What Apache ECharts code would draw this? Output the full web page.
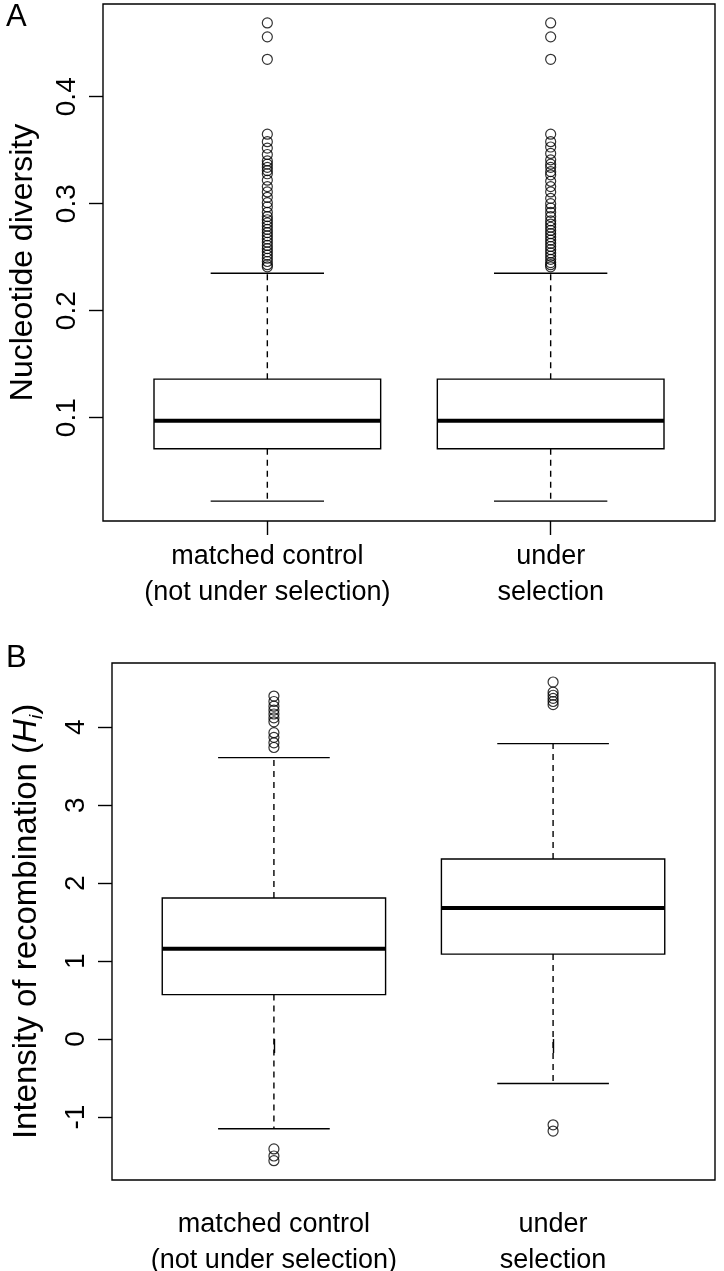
<!DOCTYPE html>
<html>
<head>
<meta charset="utf-8">
<script src="https://cdn.jsdelivr.net/npm/echarts@6/dist/echarts.min.js"></script>
<style>
html,body{margin:0;padding:0;background:#fff;}
#c{width:724px;height:1271px;}
</style>
</head>
<body>
<div id="c"></div>
<script>
// ---------- data ----------
const categories = ['matched control\n(not under selection)', 'under\nselection'];
const catPos = [1, 2];

// Panel A: nucleotide diversity  [lowWhisker, Q1, median, Q3, highWhisker]
const divCtrlStats = [0.022, 0.071, 0.097, 0.136, 0.235];
const divSelStats  = [0.022, 0.071, 0.097, 0.136, 0.235];
const divCtrlOutliers = [0.469, 0.456, 0.435, 0.365, 0.358, 0.352, 0.346, 0.340, 0.337, 0.334, 0.331, 0.328,
  0.322, 0.316, 0.311, 0.306, 0.301, 0.297, 0.292, 0.288, 0.285, 0.282, 0.279, 0.276, 0.273, 0.270,
  0.267, 0.264, 0.261, 0.258, 0.255, 0.252, 0.249, 0.246, 0.243, 0.241];
const divSelOutliers = [0.469, 0.456, 0.435, 0.365, 0.358, 0.353, 0.347, 0.341, 0.337, 0.334, 0.330, 0.327,
  0.321, 0.316, 0.311, 0.305, 0.300, 0.296, 0.292, 0.288, 0.284, 0.281, 0.278, 0.275, 0.272, 0.269,
  0.266, 0.263, 0.260, 0.257, 0.254, 0.251, 0.248, 0.245, 0.243, 0.241];
const divTicks = [0.1, 0.2, 0.3, 0.4];

// Panel B: intensity of recombination
const recCtrlStats = [-1.15, 0.57, 1.16, 1.81, 3.61];
const recSelStats  = [-0.57, 1.09, 1.68, 2.31, 3.79];
const recCtrlOutliers = [4.40, 4.33, 4.27, 4.22, 4.17, 4.12, 4.07, 3.93, 3.87, 3.80, 3.74, -1.41, -1.50, -1.56];
const recSelOutliers = [4.58, 4.45, 4.41, 4.37, 4.33, 4.29, -1.10, -1.18];
const recTicks = [-1, 0, 1, 2, 3, 4];

// ---------- chart ----------
const FONT = '"Liberation Sans", Arial, Helvetica, sans-serif';
const chart = echarts.init(document.getElementById('c'), null, {renderer: 'canvas'});

function renderBox(params, api) {
  const x = api.value(0);
  const lo = api.value(1), q1 = api.value(2), med = api.value(3), q3 = api.value(4), hi = api.value(5);
  const hw = 0.4, cw = 0.2;
  const tl = api.coord([x - hw, q3]);
  const br = api.coord([x + hw, q1]);
  const c = api.coord([x, med]);
  const yLo = api.coord([x, lo])[1], yHi = api.coord([x, hi])[1];
  const capL = api.coord([x - cw, lo])[0], capR = api.coord([x + cw, lo])[0];
  const ls = {stroke: '#000', lineWidth: 1.4};
  return {
    type: 'group',
    children: [
      {type: 'line', shape: {x1: c[0], y1: tl[1], x2: c[0], y2: yHi}, style: {stroke: '#000', lineWidth: 1.4, lineDash: [6, 5]}},
      {type: 'line', shape: {x1: c[0], y1: br[1], x2: c[0], y2: yLo}, style: {stroke: '#000', lineWidth: 1.4, lineDash: [6, 5]}},
      {type: 'line', shape: {x1: capL, y1: yHi, x2: capR, y2: yHi}, style: ls},
      {type: 'line', shape: {x1: capL, y1: yLo, x2: capR, y2: yLo}, style: ls},
      {type: 'rect', shape: {x: tl[0], y: tl[1], width: br[0] - tl[0], height: br[1] - tl[1]}, style: {fill: '#fff', stroke: '#000', lineWidth: 1.4}},
      {type: 'line', shape: {x1: tl[0], y1: c[1], x2: br[0], y2: c[1]}, style: {stroke: '#000', lineWidth: 4}}
    ]
  };
}

function boxData(statsList) {
  return statsList.map((s, i) => [catPos[i]].concat(s));
}
function outData(pos, arr) {
  return arr.map(v => [pos, v]);
}

const tickLabelStyle = {color: '#000', fontSize: 28, fontFamily: FONT};
const outlierStyle = {color: 'rgba(0,0,0,0)', borderColor: '#000', borderWidth: 1.2};

function xAxisFor(gridIndex, min, max, margin) {
  return {
    type: 'value', gridIndex, min, max,
    axisLine: {show: false},
    splitLine: {show: false},
    axisTick: {show: true, customValues: catPos, length: 14, inside: false, lineStyle: {color: '#000', width: 1.4}},
    axisLabel: {
      show: true, customValues: catPos, margin,
      formatter: v => categories[Math.round(v) - 1],
      color: '#000', fontSize: 27, lineHeight: 36, fontFamily: FONT
    }
  };
}

const option = {
  animation: false,
  backgroundColor: '#fff',
  graphic: [
    {type: 'text', left: 6, top: 2, style: {text: 'A', fontSize: 31, fontFamily: FONT, fill: '#000'}},
    {type: 'text', left: 6, top: 643, style: {text: 'B', fontSize: 31, fontFamily: FONT, fill: '#000'}}
  ],
  grid: [
    {left: 103, top: 4, width: 612, height: 517, show: true, borderColor: '#000', borderWidth: 1.4, backgroundColor: 'transparent', containLabel: false, outerBoundsMode: 'none'},
    {left: 112, top: 663, width: 603, height: 517, show: true, borderColor: '#000', borderWidth: 1.4, backgroundColor: 'transparent', containLabel: false, outerBoundsMode: 'none'}
  ],
  xAxis: [
    xAxisFor(0, 0.42, 2.58, 18),
    xAxisFor(1, 0.42, 2.58, 27)
  ],
  yAxis: [
    {
      type: 'value', gridIndex: 0, min: 0.0034, max: 0.4867,
      axisLine: {show: false}, splitLine: {show: false},
      axisTick: {show: true, customValues: divTicks, length: 14, lineStyle: {color: '#000', width: 1.4}},
      axisLabel: Object.assign({customValues: divTicks, rotate: 90, margin: 22, formatter: v => v.toFixed(1)}, tickLabelStyle),
      name: 'Nucleotide diversity', nameLocation: 'middle', nameRotate: 90, nameGap: 64,
      nameTextStyle: {color: '#000', fontSize: 32, fontFamily: FONT}
    },
    {
      type: 'value', gridIndex: 1, min: -1.808, max: 4.824,
      axisLine: {show: false}, splitLine: {show: false},
      axisTick: {show: true, customValues: recTicks, length: 14, lineStyle: {color: '#000', width: 1.4}},
      axisLabel: Object.assign({customValues: recTicks, rotate: 90, margin: 22, formatter: v => String(v)}, tickLabelStyle),
      name: 'Intensity of recombination ({i|H}{s|i})', nameLocation: 'middle', nameRotate: 90, nameGap: 66,
      nameTextStyle: {
        color: '#000', fontSize: 33, fontFamily: FONT, lineHeight: 38,
        rich: {
          i: {fontStyle: 'italic', fontSize: 33, fontFamily: FONT, color: '#000', lineHeight: 38},
          s: {fontStyle: 'italic', fontSize: 19, fontFamily: FONT, color: '#000', verticalAlign: 'bottom', lineHeight: 20}
        }
      }
    }
  ],
  series: [
    {type: 'custom', xAxisIndex: 0, yAxisIndex: 0, renderItem: renderBox, data: boxData([divCtrlStats, divSelStats]), z: 2},
    {type: 'scatter', xAxisIndex: 0, yAxisIndex: 0, symbol: 'circle', symbolSize: 10, itemStyle: outlierStyle, data: outData(catPos[0], divCtrlOutliers), z: 3},
    {type: 'scatter', xAxisIndex: 0, yAxisIndex: 0, symbol: 'circle', symbolSize: 10, itemStyle: outlierStyle, data: outData(catPos[1], divSelOutliers), z: 3},
    {type: 'custom', xAxisIndex: 1, yAxisIndex: 1, renderItem: renderBox, data: boxData([recCtrlStats, recSelStats]), z: 2},
    {type: 'scatter', xAxisIndex: 1, yAxisIndex: 1, symbol: 'circle', symbolSize: 10, itemStyle: outlierStyle, data: outData(catPos[0], recCtrlOutliers), z: 3},
    {type: 'scatter', xAxisIndex: 1, yAxisIndex: 1, symbol: 'circle', symbolSize: 10, itemStyle: outlierStyle, data: outData(catPos[1], recSelOutliers), z: 3}
  ]
};
chart.setOption(option);
</script>
</body>
</html>
